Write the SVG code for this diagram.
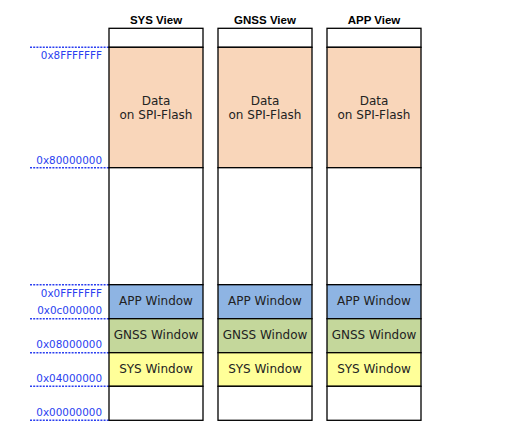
<svg xmlns="http://www.w3.org/2000/svg" width="505" height="431" viewBox="0 0 505 431">
<style>
.hdr{font-family:"Liberation Sans",Arial,sans-serif;font-weight:bold;font-size:11.5px;fill:#000;text-anchor:middle}
.t{font-family:"DejaVu Sans",Verdana,sans-serif;font-size:12px;fill:#222;text-anchor:middle}
.addr{font-family:"DejaVu Sans",Verdana,sans-serif;font-size:10.4px;fill:#2b3ff0;text-anchor:end}
.box{stroke:#000;stroke-width:1.3}
.w{fill:#fff}.f{fill:#f9d6ba}.a{fill:#8eb4e3}.g{fill:#c4d79b}.s{fill:#ffff99}
.d{stroke:#2b3ff0;stroke-width:1.4;stroke-dasharray:2,1.2;fill:none}
</style>
<g id="connectors">
<line class="d" x1="30" y1="47.3" x2="109" y2="47.3"/>
<line class="d" x1="30" y1="167.7" x2="109" y2="167.7"/>
<line class="d" x1="30" y1="284.7" x2="109" y2="284.7"/>
<line class="d" x1="30" y1="318.7" x2="109" y2="318.7"/>
<line class="d" x1="30" y1="352.7" x2="109" y2="352.7"/>
<line class="d" x1="30" y1="386.3" x2="109" y2="386.3"/>
<line class="d" x1="30" y1="420.3" x2="109" y2="420.3"/>
</g>
<g id="addresses">
<text class="addr" x="102" y="58.5">0x8FFFFFFF</text>
<text class="addr" x="102" y="164">0x80000000</text>
<text class="addr" x="102" y="296.5">0x0FFFFFFF</text>
<text class="addr" x="102" y="314">0x0c000000</text>
<text class="addr" x="102" y="347.5">0x08000000</text>
<text class="addr" x="102" y="382">0x04000000</text>
<text class="addr" x="102" y="416">0x00000000</text>
</g>
<g id="sys-view">
<text class="hdr" x="156" y="24">SYS View</text>
<rect class="box w" x="109" y="28.3" width="94" height="19"/>
<rect class="box f" x="109" y="47.3" width="94" height="120.4"/>
<rect class="box w" x="109" y="167.7" width="94" height="117"/>
<rect class="box a" x="109" y="284.7" width="94" height="34"/>
<rect class="box g" x="109" y="318.7" width="94" height="34"/>
<rect class="box s" x="109" y="352.7" width="94" height="33.6"/>
<rect class="box w" x="109" y="386.3" width="94" height="34"/>
<text class="t" x="156" y="104.5">Data</text>
<text class="t" x="156" y="118.5">on SPI-Flash</text>
<text class="t" x="156" y="305">APP Window</text>
<text class="t" x="156" y="338.5">GNSS Window</text>
<text class="t" x="156" y="373">SYS Window</text>
</g>
<g id="gnss-view">
<text class="hdr" x="265" y="24">GNSS View</text>
<rect class="box w" x="218" y="28.3" width="94" height="19"/>
<rect class="box f" x="218" y="47.3" width="94" height="120.4"/>
<rect class="box w" x="218" y="167.7" width="94" height="117"/>
<rect class="box a" x="218" y="284.7" width="94" height="34"/>
<rect class="box g" x="218" y="318.7" width="94" height="34"/>
<rect class="box s" x="218" y="352.7" width="94" height="33.6"/>
<rect class="box w" x="218" y="386.3" width="94" height="34"/>
<text class="t" x="265" y="104.5">Data</text>
<text class="t" x="265" y="118.5">on SPI-Flash</text>
<text class="t" x="265" y="305">APP Window</text>
<text class="t" x="265" y="338.5">GNSS Window</text>
<text class="t" x="265" y="373">SYS Window</text>
</g>
<g id="app-view">
<text class="hdr" x="374" y="24">APP View</text>
<rect class="box w" x="327" y="28.3" width="94" height="19"/>
<rect class="box f" x="327" y="47.3" width="94" height="120.4"/>
<rect class="box w" x="327" y="167.7" width="94" height="117"/>
<rect class="box a" x="327" y="284.7" width="94" height="34"/>
<rect class="box g" x="327" y="318.7" width="94" height="34"/>
<rect class="box s" x="327" y="352.7" width="94" height="33.6"/>
<rect class="box w" x="327" y="386.3" width="94" height="34"/>
<text class="t" x="374" y="104.5">Data</text>
<text class="t" x="374" y="118.5">on SPI-Flash</text>
<text class="t" x="374" y="305">APP Window</text>
<text class="t" x="374" y="338.5">GNSS Window</text>
<text class="t" x="374" y="373">SYS Window</text>
</g>
</svg>
